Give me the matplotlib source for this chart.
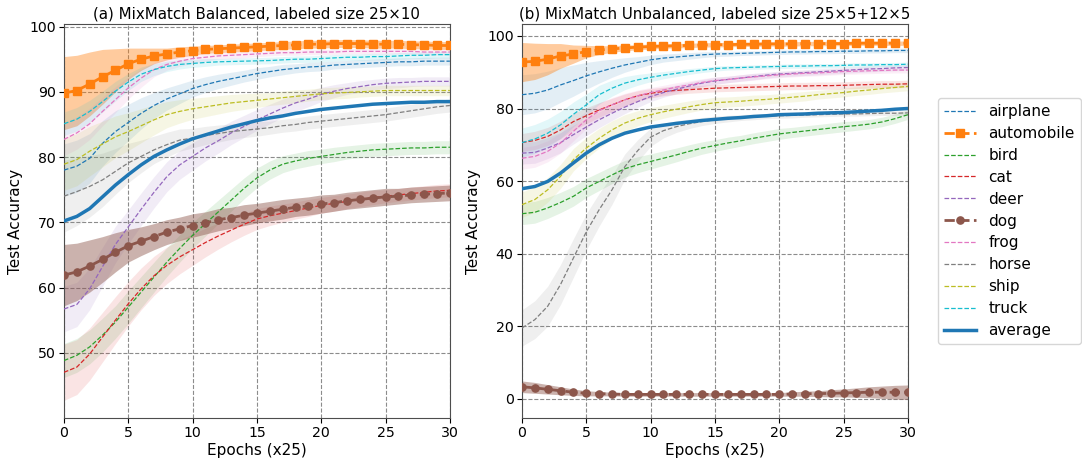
import numpy as np
import matplotlib
matplotlib.use("Agg")
import matplotlib.pyplot as plt

epochs = list(range(31))
classes = ["airplane", "automobile", "bird", "cat", "deer", "dog", "frog", "horse", "ship", "truck"]
colors = ["tab:blue", "tab:orange", "tab:green", "tab:red", "tab:purple",
          "tab:brown", "tab:pink", "tab:gray", "tab:olive", "tab:cyan"]

# ---------------- (a) balanced ----------------
airplane_a = [78.0, 78.6, 79.8, 82.1, 83.9, 85.3, 86.7, 87.9, 88.9, 89.7, 90.5, 91.1, 91.6, 92.0, 92.4, 92.8,
              93.1, 93.4, 93.6, 93.8, 93.9, 94.1, 94.2, 94.3, 94.4, 94.5, 94.6, 94.6, 94.7, 94.7, 94.7]
automobile_a = [89.8, 90.2, 91.2, 92.3, 93.3, 94.3, 95.0, 95.5, 95.8, 96.1, 96.3, 96.5, 96.6, 96.7, 96.8, 96.9,
                97.0, 97.1, 97.2, 97.3, 97.3, 97.4, 97.4, 97.4, 97.3, 97.3, 97.3, 97.2, 97.2, 97.1, 97.1]
bird_a = [48.8, 49.6, 50.9, 52.7, 54.7, 57.0, 59.3, 61.6, 63.9, 66.0, 68.0, 69.8, 71.6, 73.4, 75.2, 76.8,
          78.0, 78.9, 79.4, 79.8, 80.1, 80.4, 80.7, 80.9, 81.1, 81.2, 81.3, 81.4, 81.4, 81.5, 81.5]
cat_a = [47.0, 47.8, 49.8, 52.4, 55.0, 57.5, 59.8, 61.8, 63.4, 64.7, 65.8, 66.9, 67.9, 68.8, 69.7, 70.5,
         71.0, 71.4, 71.8, 72.2, 72.6, 72.9, 73.2, 73.5, 73.8, 74.0, 74.2, 74.4, 74.6, 74.8, 74.9]
deer_a = [56.7, 57.4, 59.8, 63.2, 66.6, 69.3, 72.0, 74.6, 77.0, 78.8, 80.1, 81.4, 82.5, 83.7, 84.7, 85.7,
          86.6, 87.5, 88.3, 88.9, 89.6, 90.1, 90.5, 90.8, 91.1, 91.3, 91.4, 91.5, 91.6, 91.6, 91.6]
dog_a = [61.9, 62.4, 63.3, 64.3, 65.4, 66.4, 67.1, 67.8, 68.5, 69.0, 69.5, 69.9, 70.4, 70.7, 71.1, 71.4,
         71.7, 72.0, 72.3, 72.5, 72.8, 73.0, 73.3, 73.5, 73.7, 73.9, 74.0, 74.2, 74.3, 74.4, 74.5]
frog_a = [82.7, 83.7, 85.1, 87.0, 88.8, 90.6, 92.1, 93.4, 94.2, 94.7, 95.1, 95.3, 95.5, 95.6, 95.7, 95.8,
          95.9, 96.0, 96.0, 96.1, 96.1, 96.1, 96.2, 96.2, 96.2, 96.2, 96.2, 96.2, 96.1, 96.1, 96.1]
horse_a = [74.0, 74.7, 75.5, 76.5, 77.8, 79.1, 80.1, 81.1, 81.9, 82.6, 82.9, 83.3, 83.6, 83.9, 84.1, 84.3,
           84.5, 84.8, 85.0, 85.3, 85.5, 85.7, 85.9, 86.1, 86.3, 86.5, 86.8, 87.1, 87.4, 87.7, 87.9]
ship_a = [78.9, 79.6, 80.9, 82.0, 83.1, 83.9, 84.8, 85.7, 86.5, 87.0, 87.4, 87.7, 88.0, 88.3, 88.5, 88.7,
          88.9, 89.1, 89.3, 89.5, 89.7, 89.8, 89.9, 90.0, 90.1, 90.2, 90.2, 90.2, 90.2, 90.2, 90.2]
truck_a = [85.1, 85.8, 87.0, 88.5, 90.1, 91.5, 92.7, 93.4, 93.9, 94.2, 94.35, 94.5, 94.6, 94.65, 94.7, 94.75,
           94.8, 94.9, 95.0, 95.0, 95.1, 95.2, 95.3, 95.3, 95.4, 95.4, 95.5, 95.6, 95.6, 95.7, 95.7]
average_a = [70.2, 70.9, 72.1, 73.9, 75.7, 77.3, 78.8, 80.1, 81.1, 82.0, 82.8, 83.4, 84.0, 84.6, 85.1, 85.6,
             86.0, 86.3, 86.7, 87.0, 87.3, 87.5, 87.7, 87.9, 88.1, 88.2, 88.3, 88.4, 88.4, 88.5, 88.5]

airplane_a_sd = [4.0, 4.0, 3.8, 3.5, 3.2, 2.8, 2.4, 2.0, 1.7, 1.5, 1.3, 1.2, 1.1, 1.0, 0.9, 0.9,
                 0.8, 0.8, 0.7, 0.7, 0.7, 0.6, 0.6, 0.6, 0.6, 0.6, 0.6, 0.6, 0.6, 0.6, 0.6]
automobile_a_sd = [5.6, 5.4, 4.9, 4.2, 3.3, 2.4, 1.7, 1.2, 0.9, 0.8, 0.7, 0.6, 0.6, 0.6, 0.6, 0.6,
                   0.6, 0.6, 0.6, 0.6, 0.6, 0.6, 0.6, 0.6, 0.6, 0.6, 0.6, 0.6, 0.6, 0.6, 0.6]
bird_a_sd = [2.6, 2.6, 2.6, 2.6, 2.5, 2.5, 2.4, 2.3, 2.2, 2.1, 2.0, 1.9, 1.8, 1.7, 1.6, 1.5,
             1.4, 1.3, 1.2, 1.2, 1.1, 1.1, 1.0, 1.0, 1.0, 1.0, 1.0, 1.0, 1.0, 1.0, 1.0]
cat_a_sd = [4.3, 4.2, 4.0, 3.8, 3.6, 3.4, 3.2, 3.0, 2.8, 2.6, 2.4, 2.2, 2.0, 1.8, 1.7, 1.6,
            1.5, 1.4, 1.3, 1.3, 1.2, 1.2, 1.1, 1.1, 1.1, 1.0, 1.0, 1.0, 1.0, 1.0, 1.0]
deer_a_sd = [3.5, 3.4, 3.2, 3.0, 2.8, 2.6, 2.5, 2.4, 2.3, 2.2, 2.1, 2.0, 1.9, 1.8, 1.7, 1.6,
             1.5, 1.4, 1.3, 1.2, 1.1, 1.0, 0.9, 0.9, 0.8, 0.8, 0.8, 0.7, 0.7, 0.7, 0.7]
dog_a_sd = [4.7, 4.4, 4.0, 3.5, 3.0, 2.5, 2.2, 2.0, 1.9, 1.8, 1.8, 1.7, 1.7, 1.6, 1.6, 1.5,
            1.5, 1.5, 1.4, 1.4, 1.4, 1.3, 1.3, 1.3, 1.3, 1.3, 1.2, 1.2, 1.2, 1.2, 1.2]
frog_a_sd = [2.5, 2.5, 2.4, 2.2, 2.0, 1.7, 1.4, 1.1, 0.9, 0.8, 0.7, 0.6, 0.5, 0.5, 0.5, 0.4,
             0.4, 0.4, 0.4, 0.4, 0.4, 0.4, 0.4, 0.4, 0.4, 0.4, 0.4, 0.4, 0.4, 0.4, 0.4]
horse_a_sd = [5.5, 5.2, 4.7, 4.1, 3.5, 3.0, 2.5, 2.1, 1.9, 1.7, 1.5, 1.4, 1.3, 1.2, 1.1, 1.1,
              1.0, 1.0, 1.0, 1.0, 1.0, 1.0, 1.0, 1.0, 1.0, 1.0, 1.0, 1.0, 1.0, 1.0, 1.0]
ship_a_sd = [4.0, 4.0, 3.8, 3.5, 3.2, 2.9, 2.6, 2.3, 2.0, 1.8, 1.6, 1.5, 1.4, 1.3, 1.2, 1.1,
             1.0, 1.0, 1.0, 0.9, 0.9, 0.9, 0.9, 0.8, 0.8, 0.8, 0.8, 0.8, 0.8, 0.8, 0.8]
truck_a_sd = [1.8, 1.8, 1.7, 1.6, 1.5, 1.3, 1.1, 0.9, 0.8, 0.7, 0.6, 0.6, 0.5, 0.5, 0.5, 0.5,
              0.5, 0.5, 0.5, 0.5, 0.5, 0.5, 0.5, 0.5, 0.5, 0.5, 0.5, 0.5, 0.5, 0.5, 0.5]

# ---------------- (b) unbalanced ----------------
airplane_b = [83.8, 84.2, 85.1, 86.5, 87.7, 89.0, 90.1, 91.1, 92.0, 92.7, 93.4, 93.9, 94.2, 94.5, 94.8, 95.0,
              95.1, 95.2, 95.3, 95.4, 95.5, 95.6, 95.6, 95.7, 95.7, 95.8, 95.8, 95.9, 95.9, 96.0, 96.0]
automobile_b = [92.8, 93.0, 93.6, 94.5, 95.0, 95.7, 96.1, 96.4, 96.7, 96.9, 97.1, 97.2, 97.3, 97.4, 97.5, 97.6,
                97.6, 97.7, 97.7, 97.8, 97.8, 97.8, 97.9, 97.9, 97.9, 97.9, 98.0, 98.0, 98.0, 98.0, 98.0]
bird_b = [51.0, 51.4, 52.6, 54.1, 55.8, 58.1, 59.9, 61.7, 63.4, 64.5, 65.4, 66.3, 67.2, 68.2, 69.1, 69.8,
          70.5, 71.1, 71.8, 72.4, 73.0, 73.4, 73.8, 74.2, 74.6, 75.0, 75.3, 75.7, 76.3, 77.2, 78.3]
cat_b = [70.6, 71.2, 72.3, 74.1, 76.4, 78.0, 79.6, 81.0, 82.4, 83.5, 84.2, 84.7, 85.0, 85.2, 85.4, 85.6,
         85.7, 85.8, 85.9, 86.0, 86.1, 86.2, 86.2, 86.3, 86.3, 86.4, 86.5, 86.6, 86.7, 86.7, 86.8]
deer_b = [67.7, 67.9, 69.1, 70.6, 72.8, 74.9, 76.9, 78.7, 80.4, 81.9, 83.3, 84.4, 85.3, 86.2, 87.0, 87.6,
          88.0, 88.4, 88.8, 89.2, 89.5, 89.7, 89.9, 90.1, 90.3, 90.5, 90.7, 90.9, 91.0, 91.2, 91.3]
dog_b = [3.3, 3.0, 2.6, 2.2, 1.8, 1.5, 1.4, 1.3, 1.2, 1.2, 1.2, 1.2, 1.2, 1.2, 1.2, 1.2,
         1.2, 1.2, 1.2, 1.2, 1.2, 1.3, 1.4, 1.4, 1.5, 1.6, 1.7, 1.8, 1.8, 1.8, 1.8]
frog_b = [66.3, 66.8, 68.2, 70.5, 73.7, 76.9, 79.4, 81.0, 82.4, 83.5, 84.4, 85.1, 85.9, 86.5, 87.2, 87.7,
          88.0, 88.4, 88.7, 89.0, 89.3, 89.5, 89.7, 89.8, 90.0, 90.2, 90.3, 90.4, 90.5, 90.6, 90.6]
horse_b = [19.5, 21.8, 25.5, 31.5, 38.8, 46.0, 52.1, 57.6, 64.0, 68.4, 72.1, 73.9, 75.0, 75.8, 76.4, 76.9,
           77.2, 77.5, 77.7, 77.9, 78.0, 78.1, 78.2, 78.3, 78.4, 78.5, 78.5, 78.6, 78.7, 78.7, 78.8]
ship_b = [53.5, 54.9, 57.6, 61.3, 65.9, 69.1, 71.8, 74.1, 76.0, 77.3, 78.3, 79.1, 79.8, 80.5, 81.1, 81.6,
          81.8, 82.0, 82.3, 82.5, 82.8, 83.1, 83.4, 83.8, 84.1, 84.4, 84.8, 85.1, 85.5, 85.8, 86.1]
truck_b = [70.6, 71.6, 73.2, 75.5, 78.4, 81.0, 83.8, 85.6, 87.0, 87.9, 88.6, 89.2, 89.7, 90.2, 90.6, 91.0,
           91.2, 91.3, 91.4, 91.5, 91.6, 91.7, 91.7, 91.8, 91.8, 91.9, 92.0, 92.0, 92.1, 92.1, 92.2]
average_b = [57.9, 58.5, 59.9, 62.2, 65.0, 67.7, 70.0, 71.8, 73.2, 74.1, 74.9, 75.4, 75.9, 76.3, 76.7, 77.0,
             77.3, 77.5, 77.8, 78.0, 78.3, 78.4, 78.5, 78.7, 78.8, 78.9, 79.1, 79.3, 79.5, 79.8, 80.0]

airplane_b_sd = [5.5, 5.4, 5.2, 4.8, 4.3, 3.7, 3.1, 2.5, 2.0, 1.6, 1.3, 1.1, 1.0, 0.9, 0.8, 0.7,
                 0.7, 0.6, 0.6, 0.6, 0.6, 0.6, 0.6, 0.6, 0.6, 0.6, 0.6, 0.6, 0.6, 0.6, 0.6]
automobile_b_sd = [5.4, 5.0, 4.3, 3.4, 2.5, 1.7, 1.2, 0.9, 0.8, 0.7, 0.7, 0.6, 0.6, 0.6, 0.6, 0.6,
                   0.6, 0.6, 0.6, 0.6, 0.6, 0.6, 0.6, 0.6, 0.6, 0.6, 0.6, 0.6, 0.6, 0.6, 0.6]
bird_b_sd = [3.0, 3.0, 2.9, 2.8, 2.7, 2.6, 2.5, 2.4, 2.3, 2.2, 2.1, 2.0, 1.9, 1.8, 1.7, 1.6,
             1.6, 1.5, 1.5, 1.5, 1.5, 1.4, 1.4, 1.4, 1.4, 1.4, 1.3, 1.3, 1.3, 1.3, 1.3]
cat_b_sd = [2.5, 2.5, 2.5, 2.4, 2.3, 2.2, 2.0, 1.8, 1.6, 1.4, 1.3, 1.2, 1.1, 1.0, 1.0, 1.0,
            1.0, 1.0, 1.0, 1.0, 1.0, 1.0, 1.0, 1.0, 1.0, 1.0, 1.0, 1.0, 1.0, 1.0, 1.0]
deer_b_sd = [3.0, 3.0, 2.9, 2.8, 2.6, 2.4, 2.2, 2.0, 1.8, 1.6, 1.4, 1.3, 1.2, 1.1, 1.0, 1.0,
             0.9, 0.9, 0.9, 0.8, 0.8, 0.8, 0.8, 0.8, 0.8, 0.8, 0.8, 0.8, 0.8, 0.8, 0.8]
dog_b_sd = [1.6, 1.5, 1.3, 1.1, 0.9, 0.7, 0.6, 0.5, 0.5, 0.5, 0.5, 0.5, 0.5, 0.5, 0.5, 0.5,
            0.5, 0.5, 0.5, 0.5, 0.5, 0.6, 0.7, 0.8, 1.0, 1.1, 1.3, 1.5, 1.7, 1.9, 2.0]
frog_b_sd = [3.0, 3.0, 2.9, 2.8, 2.6, 2.4, 2.2, 2.0, 1.8, 1.6, 1.4, 1.3, 1.2, 1.1, 1.0, 1.0,
             0.9, 0.9, 0.9, 0.8, 0.8, 0.8, 0.8, 0.8, 0.8, 0.8, 0.8, 0.8, 0.8, 0.8, 0.8]
horse_b_sd = [5.0, 5.2, 5.5, 5.5, 5.3, 5.0, 4.5, 4.0, 3.5, 3.0, 2.5, 2.0, 1.6, 1.3, 1.1, 1.0,
              0.9, 0.8, 0.8, 0.7, 0.7, 0.7, 0.6, 0.6, 0.6, 0.6, 0.6, 0.6, 0.6, 0.6, 0.6]
ship_b_sd = [3.5, 3.5, 3.4, 3.3, 3.1, 2.9, 2.7, 2.5, 2.3, 2.1, 1.9, 1.8, 1.7, 1.6, 1.5, 1.5,
             1.4, 1.4, 1.4, 1.3, 1.3, 1.3, 1.3, 1.2, 1.2, 1.2, 1.2, 1.2, 1.2, 1.2, 1.2]
truck_b_sd = [4.0, 4.0, 3.9, 3.7, 3.4, 3.0, 2.6, 2.2, 1.8, 1.5, 1.2, 1.0, 0.9, 0.8, 0.7, 0.7,
              0.6, 0.6, 0.6, 0.6, 0.6, 0.6, 0.6, 0.6, 0.6, 0.6, 0.6, 0.6, 0.6, 0.6, 0.6]

panel_a = {"airplane": (airplane_a, airplane_a_sd), "automobile": (automobile_a, automobile_a_sd),
           "bird": (bird_a, bird_a_sd), "cat": (cat_a, cat_a_sd), "deer": (deer_a, deer_a_sd),
           "dog": (dog_a, dog_a_sd), "frog": (frog_a, frog_a_sd), "horse": (horse_a, horse_a_sd),
           "ship": (ship_a, ship_a_sd), "truck": (truck_a, truck_a_sd)}
panel_b = {"airplane": (airplane_b, airplane_b_sd), "automobile": (automobile_b, automobile_b_sd),
           "bird": (bird_b, bird_b_sd), "cat": (cat_b, cat_b_sd), "deer": (deer_b, deer_b_sd),
           "dog": (dog_b, dog_b_sd), "frog": (frog_b, frog_b_sd), "horse": (horse_b, horse_b_sd),
           "ship": (ship_b, ship_b_sd), "truck": (truck_b, truck_b_sd)}

titles = ["(a) MixMatch Balanced, labeled size 25×10",
          "(b) MixMatch Unbalanced, labeled size 25×5+12×5"]

fig = plt.figure(figsize=(10.82, 4.61), dpi=100)
ax_a = fig.add_axes([0.0591, 0.0933, 0.3567, 0.8547])
ax_b = fig.add_axes([0.4824, 0.0933, 0.3567, 0.8547])

x = np.array(epochs)


def draw(ax, panel, avg, title, ylim, yticks):
    handles = []
    for name, col in zip(classes, colors):
        m, s = panel[name]
        m = np.array(m); s = np.array(s)
        if name == "automobile":
            ax.fill_between(x, m - s, m + s, color=col, alpha=0.4, lw=0)
            h, = ax.plot(x, m, '--', color=col, lw=2, marker='s', ms=5.5, label=name, zorder=4)
        elif name == "dog":
            ax.fill_between(x, m - s, m + s, color=col, alpha=0.45, lw=0)
            h, = ax.plot(x, m, '--', color=col, lw=2, marker='o', ms=5.2, label=name, zorder=4)
        else:
            ax.fill_between(x, m - s, m + s, color=col, alpha=0.12, lw=0)
            h, = ax.plot(x, m, '--', color=col, lw=0.9, label=name, zorder=3)
        handles.append(h)
    h, = ax.plot(x, avg, '-', color='tab:blue', lw=2.5, label='average', zorder=5)
    handles.append(h)
    ax.set_xlim(0, 30)
    ax.set_ylim(*ylim)
    ax.set_xticks([0, 5, 10, 15, 20, 25, 30])
    ax.set_yticks(yticks)
    ax.grid(True, linestyle='--', color='gray', lw=0.8, alpha=0.9)
    ax.set_axisbelow(True)
    ax.set_xlabel("Epochs (x25)", fontsize=11, labelpad=2)
    ax.set_ylabel("Test Accuracy", fontsize=11)
    ax.set_title(title, fontsize=10.8, pad=4)
    ax.tick_params(labelsize=10.2, pad=2.5)
    for sp in ax.spines.values():
        sp.set_color('0.3')
    return handles


handles = draw(ax_a, panel_a, average_a, titles[0], (40.0, 100.4), [50, 60, 70, 80, 90, 100])
draw(ax_b, panel_b, average_b, titles[1], (-5.3, 103.3), [0, 20, 40, 60, 80, 100])

fig.legend(handles=handles, loc='center left', bbox_to_anchor=(0.867, 0.5206),
           borderaxespad=0, fontsize=11, handlelength=2.1, borderpad=0.4, labelspacing=0.45)

fig.savefig("out.png", dpi=100)
